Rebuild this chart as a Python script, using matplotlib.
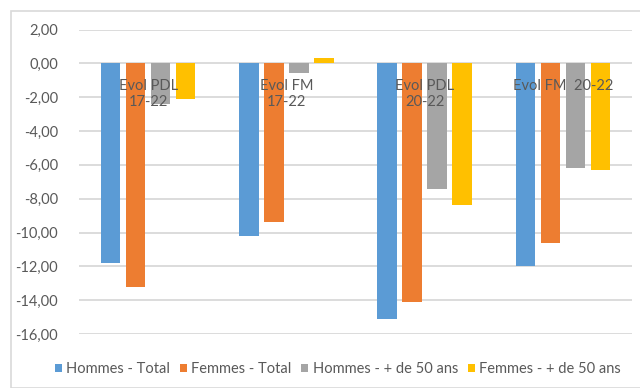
import matplotlib
matplotlib.use("Agg")
import matplotlib.pyplot as plt
from matplotlib.patches import Rectangle
import numpy as np

categories = ["Evol PDL\n17-22", "Evol FM\n17-22", "Evol PDL\n20-22", "Evol FM  20-22"]
series_names = ["Hommes - Total", "Femmes - Total", "Hommes - + de 50 ans", "Femmes - + de 50 ans"]
hommes_total = [-11.8, -10.2, -15.1, -12.0]
femmes_total = [-13.2, -9.4, -14.1, -10.6]
hommes_50 = [-2.4, -0.6, -7.4, -6.2]
femmes_50 = [-2.1, 0.3, -8.4, -6.3]
y_ticks = [2, 0, -2, -4, -6, -8, -10, -12, -14, -16]

colors = ["#5B9BD5", "#ED7D31", "#A5A5A5", "#FFC000"]
text_color = "#595959"
grid_color = "#D9D9D9"

plt.rcParams["font.family"] = ["Lato", "DejaVu Sans"]

W, H = 640, 388
fig = plt.figure(figsize=(W / 100, H / 100), dpi=100)

# chart area frame
fig.patches.append(Rectangle((10.5 / W, 0), 1, 1 - 10.5 / H, transform=fig.transFigure,
                             fill=False, edgecolor=grid_color, linewidth=1.2))

ax = fig.add_axes([79 / W, 1 - 334 / H, (632 - 79) / W, (334 - 29.5) / H])

x = np.arange(len(categories))
pitch = 0.181
width = 0.14
all_series = [hommes_total, femmes_total, hommes_50, femmes_50]
for i, (vals, name, col) in enumerate(zip(all_series, series_names, colors)):
    ax.bar(x + (i - 1.5) * pitch, vals, width=width, color=col, label=name, zorder=3)

ax.set_xlim(-0.5, len(categories) - 0.5)
ax.set_ylim(-16, 2)
ax.set_yticks(y_ticks)
ax.set_yticklabels([f"{v:.2f}".replace(".", ",") for v in y_ticks])
ax.yaxis.grid(True, color=grid_color, linewidth=1.3, zorder=0)
ax.set_xticks([])
ax.tick_params(axis="y", length=0, pad=15, labelsize=10.5, labelcolor=text_color)
for s in ax.spines.values():
    s.set_visible(False)

for xi, lab in zip(x, categories):
    ax.annotate(lab, xy=(xi, 0), xytext=(0, -11), textcoords="offset points",
                ha="center", va="top", fontsize=10.5, color=text_color,
                linespacing=1.25, zorder=5)

leg = fig.legend(loc="center", bbox_to_anchor=(0.528, 1 - 369 / H), ncol=4,
                 frameon=False, fontsize=10.5, labelcolor=text_color,
                 handlelength=0.5, handleheight=0.5, handletextpad=0.3,
                 columnspacing=0.65)

fig.savefig("out.png", dpi=100)
